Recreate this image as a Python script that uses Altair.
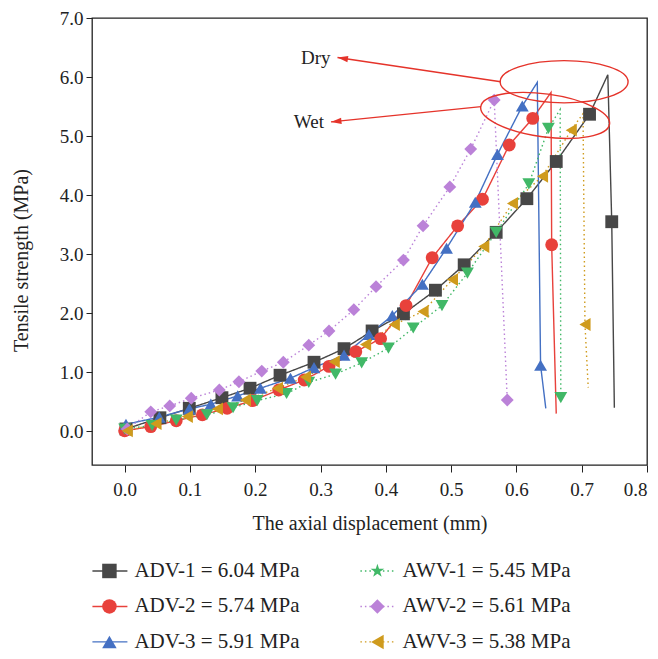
import altair as alt
import pandas as pd

# ---------------- data ----------------
names = ["ADV-1", "ADV-2", "ADV-3", "AWV-1", "AWV-2", "AWV-3"]
peaks = [6.04, 5.74, 5.91, 5.45, 5.61, 5.38]

adv1_x = [0.002, 0.054, 0.099, 0.149, 0.192, 0.238, 0.290, 0.336, 0.379, 0.427, 0.476, 0.520, 0.569, 0.616, 0.661, 0.712, 0.740, 0.746, 0.750]
adv1_y = [0.04, 0.23, 0.39, 0.57, 0.73, 0.95, 1.17, 1.40, 1.70, 1.99, 2.39, 2.82, 3.37, 3.94, 4.57, 5.37, 6.04, 3.55, 0.40]
adv1_m = [1, 1, 1, 1, 1, 1, 1, 1, 1, 1, 1, 1, 1, 1, 1, 1, 0, 1, 0]

adv2_x = [0.000, 0.040, 0.079, 0.119, 0.157, 0.196, 0.236, 0.275, 0.313, 0.354, 0.392, 0.431, 0.471, 0.510, 0.548, 0.589, 0.625, 0.653, 0.654, 0.661]
adv2_y = [0.01, 0.08, 0.18, 0.28, 0.39, 0.52, 0.70, 0.87, 1.10, 1.35, 1.57, 2.13, 2.94, 3.48, 3.93, 4.85, 5.30, 5.74, 3.16, 0.30]
adv2_m = [1, 1, 1, 1, 1, 1, 1, 1, 1, 1, 1, 1, 1, 1, 1, 1, 1, 0, 1, 0]

adv3_x = [0.002, 0.053, 0.099, 0.132, 0.173, 0.208, 0.254, 0.290, 0.336, 0.374, 0.410, 0.456, 0.493, 0.537, 0.571, 0.609, 0.632, 0.637, 0.645]
adv3_y = [0.12, 0.24, 0.38, 0.46, 0.60, 0.73, 0.90, 1.08, 1.29, 1.64, 1.96, 2.49, 3.10, 3.88, 4.69, 5.51, 5.91, 1.12, 0.39]
adv3_m = [1, 1, 1, 1, 1, 1, 1, 1, 1, 1, 1, 1, 1, 1, 1, 1, 0, 1, 0]

awv1_x = [0.000, 0.042, 0.079, 0.126, 0.166, 0.203, 0.248, 0.282, 0.323, 0.363, 0.404, 0.442, 0.486, 0.525, 0.569, 0.619, 0.649, 0.667, 0.668]
awv1_y = [0.04, 0.10, 0.19, 0.28, 0.40, 0.52, 0.64, 0.83, 0.97, 1.16, 1.41, 1.75, 2.13, 2.68, 3.37, 4.19, 5.13, 5.45, 0.57]
awv1_m = [1, 1, 1, 1, 1, 1, 1, 1, 1, 1, 1, 1, 1, 1, 1, 1, 1, 0, 1]

awv2_x = [0.004, 0.040, 0.069, 0.102, 0.145, 0.175, 0.210, 0.243, 0.282, 0.313, 0.351, 0.385, 0.427, 0.457, 0.498, 0.530, 0.566, 0.586]
awv2_y = [0.04, 0.33, 0.43, 0.56, 0.70, 0.84, 1.02, 1.17, 1.46, 1.70, 2.06, 2.45, 2.90, 3.48, 4.14, 4.78, 5.61, 0.53]
awv2_m = [1, 1, 1, 1, 1, 1, 1, 1, 1, 1, 1, 1, 1, 1, 1, 1, 1, 1]

awv3_x = [0.004, 0.048, 0.096, 0.142, 0.185, 0.234, 0.277, 0.321, 0.369, 0.413, 0.457, 0.502, 0.550, 0.594, 0.640, 0.684, 0.702, 0.705, 0.710]
awv3_y = [0.01, 0.13, 0.25, 0.38, 0.53, 0.73, 0.92, 1.18, 1.47, 1.81, 2.03, 2.57, 3.13, 3.86, 4.32, 5.10, 5.38, 1.81, 0.74]
awv3_m = [1, 1, 1, 1, 1, 1, 1, 1, 1, 1, 1, 1, 1, 1, 1, 1, 0, 1, 0]

x_ticks = [0.0, 0.1, 0.2, 0.3, 0.4, 0.5, 0.6, 0.7, 0.8]
y_ticks = [0.0, 1.0, 2.0, 3.0, 4.0, 5.0, 6.0, 7.0]

# annotation anchors (data units)
ann_text = ["Dry", "Wet"]
ell_x = [0.673, 0.644]
ell_y = [5.92, 5.35]
arrow_tail_x = [0.576, 0.546]
arrow_tail_y = [5.92, 5.50]
arrow_tip_x = [0.326, 0.316]
arrow_tip_y = [6.33, 5.24]

# ---------------- styles ----------------
colors = ["#474747", "#e8413b", "#4470c3", "#41b867", "#bb82d8", "#cf9b1d"]
dashes = [[1, 0], [1, 0], [1, 0], [1.5, 3], [1.5, 3], [1.5, 3]]
plot_shapes = ["square", "circle", "triangle-up", "triangle-down", "diamond", "triangle-left"]
STAR = ("M0,-1L0.2233,-0.3074L0.9511,-0.309L0.3614,0.1174L0.5878,0.809L0,0.38"
        "L-0.5878,0.809L-0.3614,0.1174L-0.9511,-0.309L-0.2233,-0.3074Z")
legend_shapes = ["square", "circle", "triangle-up", STAR, "diamond", "triangle-left"]
ELLIPSE = "M-1,0A1,0.33 0 1,0 1,0A1,0.33 0 1,0 -1,0Z"
ARROWHEAD = "M0,0L2,-0.62L2,0.62Z"
FONT = "Liberation Serif"
RED = "#e5332a"

series = [
    (adv1_x, adv1_y, adv1_m), (adv2_x, adv2_y, adv2_m), (adv3_x, adv3_y, adv3_m),
    (awv1_x, awv1_y, awv1_m), (awv2_x, awv2_y, awv2_m), (awv3_x, awv3_y, awv3_m),
]
rows = []
for name, (xs, ys, ms) in zip(names, series):
    for i, (xv, yv, mv) in enumerate(zip(xs, ys, ms)):
        rows.append({"series": name, "idx": i, "x": xv, "y": yv, "m": mv})
df = pd.DataFrame(rows)

ann = pd.DataFrame({"label": ann_text, "ex": ell_x, "ey": ell_y,
                    "x": arrow_tail_x, "y": arrow_tail_y,
                    "x2": arrow_tip_x, "y2": arrow_tip_y})

color_scale = alt.Scale(domain=names, range=colors)
X = alt.X("x:Q", scale=alt.Scale(domain=[-0.05, 0.8], nice=False, zero=False),
          axis=alt.Axis(title="The axial displacement (mm)", values=x_ticks, format=".1f",
                        grid=False, domain=False, tickSize=7, tickColor="#222",
                        labelPadding=8, titlePadding=14, labelFlush=True))
Y = alt.Y("y:Q", scale=alt.Scale(domain=[-0.57, 7.0], nice=False, zero=False),
          axis=alt.Axis(title="Tensile strength (MPa)", values=y_ticks, format=".1f",
                        grid=False, domain=False, tickSize=6, tickColor="#222",
                        labelPadding=3, titlePadding=28, titleY=242))

lines = alt.Chart(df).mark_line(strokeWidth=1.4).encode(
    x=X, y=Y,
    color=alt.Color("series:N", scale=color_scale, legend=None),
    strokeDash=alt.StrokeDash("series:N", scale=alt.Scale(domain=names, range=dashes), legend=None),
    order="idx:Q",
)
pts = alt.Chart(df).transform_filter("datum.m == 1").mark_point(
    filled=True, opacity=1, size=165).encode(
    x=X, y=Y,
    color=alt.Color("series:N", scale=color_scale, legend=None),
    shape=alt.Shape("series:N", scale=alt.Scale(domain=names, range=plot_shapes), legend=None),
)

ell_dry = alt.Chart(ann).transform_filter("datum.label == 'Dry'").mark_point(
    shape=ELLIPSE, size=16384, filled=False, stroke=RED, strokeWidth=1.4, opacity=1).encode(
    x=alt.X("ex:Q"), y=alt.Y("ey:Q"))
ell_wet = alt.Chart(ann).transform_filter("datum.label == 'Wet'").mark_point(
    shape=ELLIPSE, size=16900, angle=7.7, filled=False, stroke=RED, strokeWidth=1.4, opacity=1).encode(
    x=alt.X("ex:Q"), y=alt.Y("ey:Q"))
arrows = alt.Chart(ann).mark_rule(color=RED, strokeWidth=1.4).encode(
    x=alt.X("x:Q"), y=alt.Y("y:Q"), x2="x2:Q", y2="y2:Q")
head_dry = alt.Chart(ann).transform_filter("datum.label == 'Dry'").mark_point(
    shape=ARROWHEAD, size=110, angle=8.4, filled=True, color=RED, opacity=1).encode(
    x=alt.X("x2:Q"), y=alt.Y("y2:Q"))
head_wet = alt.Chart(ann).transform_filter("datum.label == 'Wet'").mark_point(
    shape=ARROWHEAD, size=110, angle=354.3, filled=True, color=RED, opacity=1).encode(
    x=alt.X("x2:Q"), y=alt.Y("y2:Q"))
labels = alt.Chart(ann).mark_text(align="right", baseline="middle", dx=-7, fontSize=19,
                                  font=FONT, color="#222").encode(
    x=alt.X("x2:Q"), y=alt.Y("y2:Q"), text="label:N")

main = alt.layer(lines, pts, ell_dry, ell_wet, arrows, head_dry, head_wet, labels).properties(
    width=555, height=447)

# ---------------- legend panel ----------------
leg = pd.DataFrame({
    "lname": names,
    "label": [f"{n} = {v:.2f} MPa" for n, v in zip(names, peaks)],
    "col": [i // 3 for i in range(len(names))],
    "row": [i % 3 for i in range(len(names))],
})
LX = alt.X("col:Q", scale=alt.Scale(domain=[-0.065, 2.006], nice=False, zero=False), axis=None)
LY = alt.Y("row:Q", scale=alt.Scale(domain=[-0.45, 2.2], nice=False, zero=False, reverse=True), axis=None)
lcolor = alt.Color("lname:N", scale=color_scale, legend=None)
lrule = alt.Chart(leg).mark_rule(strokeWidth=1.4, xOffset=-17, x2Offset=18).encode(
    x=LX, x2="col:Q", y=LY, color=lcolor,
    strokeDash=alt.StrokeDash("lname:N", scale=alt.Scale(domain=names, range=dashes), legend=None))
lpts = alt.Chart(leg).mark_point(filled=True, opacity=1, size=210).encode(
    x=LX, y=LY, color=lcolor,
    shape=alt.Shape("lname:N", scale=alt.Scale(domain=names, range=legend_shapes), legend=None))
ltext = alt.Chart(leg).mark_text(align="left", baseline="middle", dx=25, fontSize=21,
                                 font=FONT, color="#222").encode(x=LX, y=LY, text="label:N")
legend_panel = alt.layer(lrule, lpts, ltext).properties(
    width=555, height=94, view=alt.ViewBackground(stroke=None))

chart = alt.vconcat(main, legend_panel, spacing=21).resolve_scale(
    x="independent", y="independent", shape="independent", strokeDash="independent"
).properties(
    padding={"left": 2, "top": 0, "right": 0, "bottom": 0}
).configure(font=FONT).configure_view(
    stroke="#222", strokeWidth=1.3
).configure_axis(
    labelFont=FONT, titleFont=FONT, labelFontSize=19, titleFontSize=20,
    labelColor="#222", titleColor="#222", titleFontWeight="normal"
)

chart.save("out.html", embed_options={"renderer": "svg", "actions": False})
